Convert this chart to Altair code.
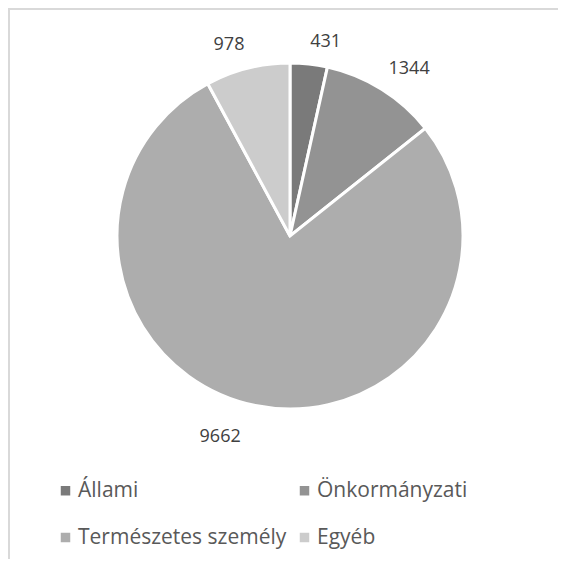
import altair as alt
import pandas as pd

categories = ["Állami", "Önkormányzati", "Természetes személy", "Egyéb"]
values = [431, 1344, 9662, 978]
colors = ["#7a7a7a", "#939393", "#adadad", "#cccccc"]

df = pd.DataFrame({"cat": categories, "val": values, "idx": list(range(len(values)))})

W, H = 550, 551
CX, CY = 282, 228

pie = alt.Chart(df).mark_arc(outerRadius=173, stroke="white", strokeWidth=3).encode(
    theta=alt.Theta("val:Q", stack=True),
    order=alt.Order("idx:Q"),
    x=alt.value(CX),
    y=alt.value(CY),
    color=alt.Color(
        "cat:N",
        scale=alt.Scale(domain=categories, range=colors),
        sort=None,
        legend=alt.Legend(
            title=None,
            orient="none",
            legendX=47,
            legendY=472,
            columns=2,
            direction="horizontal",
            symbolType="square",
            symbolSize=90,
            symbolStrokeWidth=0,
            labelFont="Open Sans",
            labelFontSize=21,
            labelColor="#595959",
            labelLimit=400,
            columnPadding=7,
            rowPadding=25,
            symbolOffset=0,
            labelOffset=2,
        ),
    ),
)

lab_base = (
    alt.Chart(df)
    .transform_window(cum="sum(val)", sort=[alt.SortField("idx")], frame=[None, 0])
    .transform_joinaggregate(total="sum(val)")
    .transform_calculate(mid="datum.cum - datum.val / 2", frac="(datum.cum - datum.val / 2) / datum.total")
)


def lab_layer(filt, align, baseline, dx=0, dy=0):
    return (
        lab_base.transform_filter(filt)
        .mark_text(radius=186, font="Open Sans", fontSize=18, color="#404040",
                   align=align, baseline=baseline, dx=dx, dy=dy)
        .encode(
            theta=alt.Theta("mid:Q", stack=False),
            x=alt.value(CX),
            y=alt.value(CY),
            text=alt.Text("val:Q", format="d"),
        )
    )


lab_rt = lab_layer("datum.frac < 0.25", "left", "bottom")
lab_rb = lab_layer("datum.frac >= 0.25 && datum.frac < 0.5", "left", "top")
lab_lb = lab_layer("datum.frac >= 0.5 && datum.frac < 0.75", "right", "top", dx=-12, dy=10)
lab_lt = lab_layer("datum.frac >= 0.75", "right", "bottom", dy=-2)

frame_left = alt.Chart(df).mark_rule(color="#d9d9d9", strokeWidth=1.5).encode(
    x=alt.value(1), y=alt.value(0), y2=alt.value(H)
)
frame_top = alt.Chart(df).mark_rule(color="#d9d9d9", strokeWidth=1.5).encode(
    x=alt.value(0), x2=alt.value(W), y=alt.value(1)
)

chart = (
    alt.layer(frame_left, frame_top, pie, lab_rt, lab_rb, lab_lb, lab_lt)
    .properties(width=W, height=H, autosize=alt.AutoSizeParams(type="none"), padding=0)
    .configure_view(stroke=None)
)

chart.save("out.html", embed_options={"renderer": "svg", "actions": False})
